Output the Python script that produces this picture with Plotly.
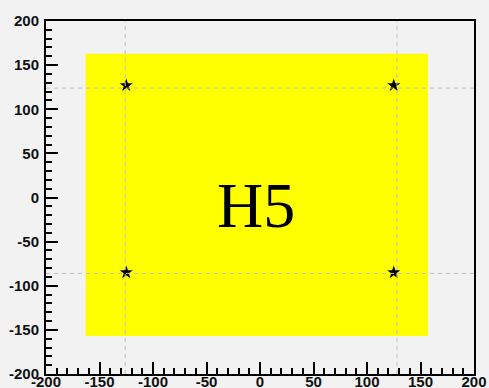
import plotly.graph_objects as go

# Filled region (yellow box) corners
box_x = [-163, 157]
box_y = [-157, 163]

# Point positions
pt_x = [-125, 125, -125, 125]
pt_y = [127, 127, -85, -85]

# Dashed guide lines
guide_x = [-126, 128]
guide_y = [124, -86]

label_text = "H5"
label_pos = (-4, -9)

axis_range = [-200, 200]
tick_vals = [-200, -150, -100, -50, 0, 50, 100, 150, 200]
tick_text = ["-200", "-150", "-100", "-50", "0", "50", "100", "150", "200"]

fig = go.Figure()

fig.add_shape(type="rect", x0=box_x[0], x1=box_x[1], y0=box_y[0], y1=box_y[1],
              fillcolor="#ffff00", line=dict(width=0), layer="below")

for gx in guide_x:
    fig.add_shape(type="line", x0=gx, x1=gx, y0=axis_range[0], y1=axis_range[1],
                  line=dict(color="#bdbdbd", width=1, dash="4px,4px"))
for gy in guide_y:
    fig.add_shape(type="line", y0=gy, y1=gy, x0=axis_range[0], x1=axis_range[1],
                  line=dict(color="#bdbdbd", width=1, dash="4px,4px"))

fig.add_trace(go.Scatter(x=pt_x, y=pt_y, mode="markers",
                         marker=dict(symbol="star", size=10, color="black"),
                         showlegend=False, hoverinfo="skip"))

fig.add_annotation(x=label_pos[0], y=label_pos[1], text=label_text, showarrow=False,
                   font=dict(family="Liberation Serif", size=64, color="black"))

axis_common = dict(range=axis_range, tickvals=tick_vals, ticktext=tick_text,
                   ticks="inside", ticklen=12, automargin=False,
                   tickwidth=1.5, tickcolor="black", showline=True, linecolor="black",
                   linewidth=2, mirror=True, showgrid=False, zeroline=False,
                   minor=dict(ticks="inside", ticklen=6, dtick=10, tickcolor="black",
                              tickwidth=1.5, showgrid=False),
                   tickfont=dict(family="Liberation Sans", size=15, color="#111111",
                                 weight="bold"))

fig.update_xaxes(**axis_common, ticklabelstandoff=-7)
fig.update_yaxes(**axis_common, ticklabelstandoff=2)

fig.update_layout(width=489, height=388, margin=dict(l=46, r=15, t=21, b=14),
                  paper_bgcolor="#f2f2f2", plot_bgcolor="#f2f2f2")

fig.write_html("out.html")
